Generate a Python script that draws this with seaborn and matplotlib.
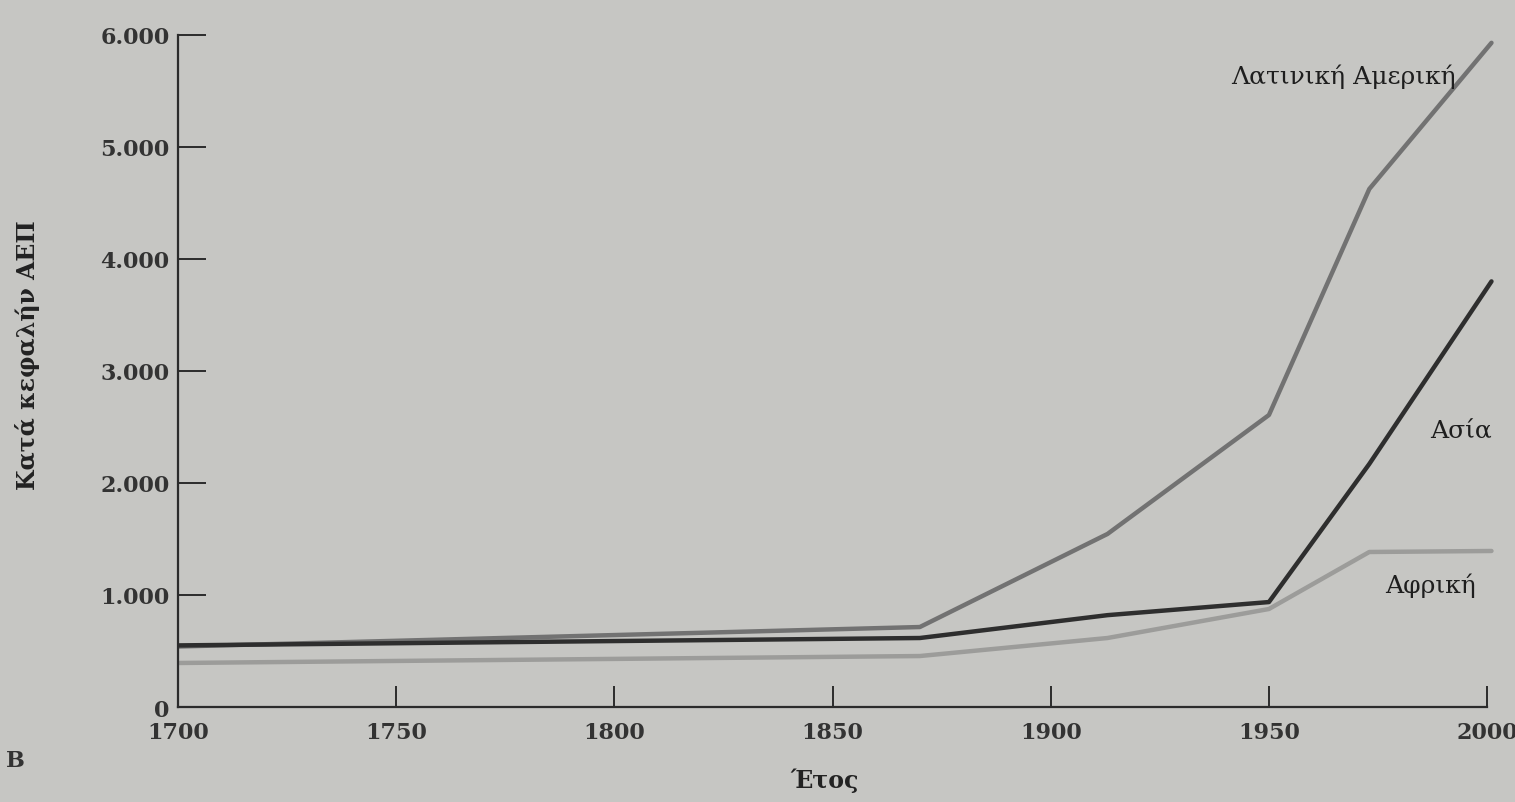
"""
Κατά κεφαλήν ΑΕΠ ανά περιοχή, 1700-2000
"""
import matplotlib
matplotlib.use("Agg")
import matplotlib.pyplot as plt
import seaborn as sns
import pandas as pd

# δεδομένα (εκτίμηση από την εικόνα)
years = [1700, 1870, 1913, 1950, 1973, 2001]
latin_america = [540, 714, 1545, 2607, 4625, 5930]
asia = [550, 616, 820, 937, 2170, 3800]
africa = [393, 455, 616, 875, 1384, 1393]

regions = ["Λατινική Αμερική", "Ασία", "Αφρική"]
x_ticks = [1700, 1750, 1800, 1850, 1900, 1950, 2000]
x_tick_labels = ["1700", "1750", "1800", "1850", "1900", "1950", "2000"]
y_ticks = [0, 1000, 2000, 3000, 4000, 5000, 6000]
y_tick_labels = ["0", "1.000", "2.000", "3.000", "4.000", "5.000", "6.000"]

# θέσεις ετικετών των καμπυλών (έτος, τιμή)
label_pos = {"Λατινική Αμερική": (1967, 5640), "Ασία": (1994, 2460), "Αφρική": (1987, 1090)}

df = pd.DataFrame({
    "Έτος": years * 3,
    "ΑΕΠ": latin_america + asia + africa,
    "Περιοχή": [r for r in regions for _ in years],
})

bg = "#c6c6c3"
ink = "#2b2b2b"
palette = {"Λατινική Αμερική": "#727272", "Ασία": "#2e2e2e", "Αφρική": "#9c9c9a"}

sns.set_style("ticks")
plt.rcParams["font.family"] = ["DejaVu Serif", "DejaVu Sans"]

fig = plt.figure(figsize=(15.15, 8.03), dpi=100, facecolor=bg)
ax = fig.add_axes([0.1175, 0.1183, 0.8785, 0.8369])
ax.set_facecolor(bg)

sns.lineplot(data=df, x="Έτος", y="ΑΕΠ", hue="Περιοχή", palette=palette,
             hue_order=regions, linewidth=3.2, legend=False, ax=ax)

ax.set_xlim(1700, 2005)
ax.set_ylim(0, 6000)
ax.set_xticks(x_ticks)
ax.set_xticklabels(x_tick_labels)
ax.set_yticks(y_ticks)
ax.set_yticklabels(y_tick_labels)

for side in ["top", "right"]:
    ax.spines[side].set_visible(False)
for side in ["left", "bottom"]:
    ax.spines[side].set_color(ink)
    ax.spines[side].set_linewidth(1.6)
ax.spines["bottom"].set_bounds(1700, 2000)

ax.tick_params(axis="y", direction="in", length=20, width=1.4, color=ink,
               pad=6, labelsize=16, labelcolor="#333333")
ax.tick_params(axis="x", direction="in", length=15, width=1.4, color=ink,
               pad=10, labelsize=16, labelcolor="#333333")
for lab in ax.get_xticklabels() + ax.get_yticklabels():
    lab.set_fontweight("bold")

ax.set_ylabel("Κατά κεφαλήν ΑΕΠ", fontsize=17, fontweight="bold", color="#222222")
ax.yaxis.set_label_coords(-0.104, 0.525)
ax.set_xlabel("Έτος", fontsize=17, fontweight="bold", color="#222222")
ax.xaxis.set_label_coords(0.486, -0.09)

for name, (lx, ly) in label_pos.items():
    ax.text(lx, ly, name, ha="center", va="center", fontsize=18, color="#1e1e1e")

fig.text(15 / 1515, 1 - 761 / 803, "B", fontsize=16, fontweight="bold",
         color="#333333", ha="center", va="center")

fig.savefig("out.png", dpi=100, facecolor=bg)
